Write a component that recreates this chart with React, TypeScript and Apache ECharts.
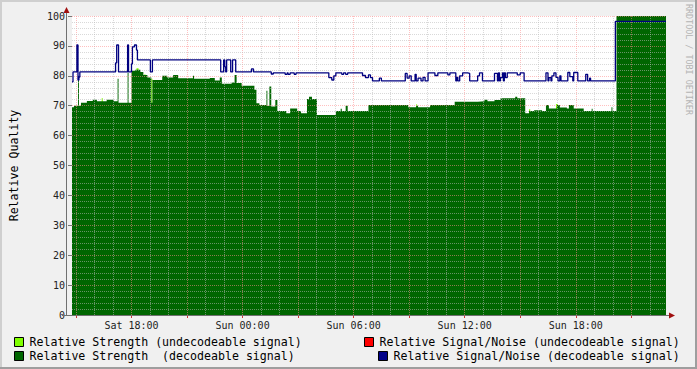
import React, { useEffect, useRef } from "react";
import * as echarts from "echarts";

// time in hours since Sat 00:00
const X_MIN = 14.786;
const X_MAX = 46.875;

const xLabelHours = [18, 24, 30, 36, 42];
const xMajorTickHours = [15, 18, 21, 24, 27, 30, 33, 36, 39, 42, 45];
const yTicks = [0, 10, 20, 30, 40, 50, 60, 70, 80, 90, 100];

// Relative Strength (decodeable signal): step start times + values
const strengthTimes = [14.786, 14.89, 15.11, 15.16, 15.27, 15.59, 15.91, 16.13, 16.66, 17.04, 17.25, 17.3, 17.79, 17.84, 18.0, 18.21, 18.48, 18.64, 18.86, 19.07, 19.13, 19.66, 19.93, 20.25, 20.52, 21.32, 21.38, 22.23, 22.5, 22.77, 22.88, 23.41, 23.57, 23.68, 23.95, 24.64, 24.75, 24.91, 25.29, 25.34, 25.45, 25.55, 25.77, 25.88, 26.36, 26.57, 26.95, 27.16, 27.48, 27.59, 27.75, 28.02, 29.04, 29.3, 29.36, 29.57, 29.68, 30.8, 32.95, 33.38, 33.48, 34.13, 35.46, 36.7, 37.07, 37.23, 37.61, 37.93, 38.73, 38.84, 39.27, 39.48, 39.75, 40.18, 40.39, 40.55, 40.98, 41.14, 41.52, 41.63, 41.89, 42.43, 42.86, 42.91, 43.93, 43.98, 44.2];
const strengthValues = [69.5, 70, 80, 70, 71, 71.6, 72, 71.5, 72, 71.5, 79, 71, 81, 71, 81.7, 82, 81.3, 80.3, 79.4, 71, 78.6, 80, 79.4, 80.3, 79.2, 80, 79, 79.3, 78.4, 79.4, 77.3, 77.8, 80.3, 77.6, 76.7, 75.3, 70.8, 70.2, 75, 69.9, 76.4, 69.7, 71.9, 68.2, 67.5, 69.1, 68.2, 67.5, 72.2, 73, 72.2, 66.9, 68.2, 69, 68.2, 70, 68.2, 70.2, 69.5, 70, 69.5, 70.2, 71.3, 71.5, 72, 71.5, 71.9, 72.5, 73, 72.5, 67.5, 68.2, 68.5, 68.2, 70.2, 69.1, 70.2, 69.4, 69.1, 70.2, 69.1, 68.2, 69, 68.2, 69.5, 68.2, 100];

// Relative Strength (undecodeable signal): only shows where it peeks above
const undecStrengthTimes = [14.786, 16.39, 16.45, 18.27, 18.38, 18.7, 18.75, 19.07, 19.13, 33.38, 33.43, 39.48, 39.54, 40.93, 41.04];
const undecStrengthValues = [0, 72.5, 0, 82.5, 0, 80.5, 0, 79, 0, 70.5, 0, 68.8, 0, 70.6, 0];

// Relative Signal/Noise (decodeable signal)
const snrTimes = [14.786, 14.84, 15.05, 15.11, 15.16, 15.21, 17.14, 17.2, 17.3, 17.79, 17.84, 18.0, 18.05, 18.16, 18.27, 18.32, 19.02, 19.13, 22.82, 22.98, 23.04, 23.09, 23.14, 23.36, 23.46, 23.63, 24.48, 24.59, 25.55, 25.66, 26.3, 26.41, 26.46, 26.57, 26.79, 26.89, 28.66, 28.82, 28.93, 29.04, 29.36, 29.46, 29.57, 29.68, 30.48, 30.64, 30.8, 30.91, 31.02, 31.39, 31.5, 32.79, 32.89, 33.0, 33.11, 33.32, 33.38, 33.48, 33.64, 33.75, 33.86, 34.02, 34.39, 34.55, 35.09, 35.2, 35.52, 35.57, 35.63, 35.73, 35.89, 36.16, 36.27, 36.7, 36.8, 36.96, 37.61, 37.77, 37.82, 37.88, 37.93, 38.04, 38.09, 38.14, 38.2, 38.3, 38.84, 39.0, 39.21, 40.39, 40.5, 40.55, 40.66, 40.71, 40.82, 40.93, 41.04, 41.14, 41.2, 41.57, 41.68, 41.84, 41.89, 42.11, 42.54, 42.64, 42.75, 42.8, 44.14];
const snrValues = [78, 81.3, 90.3, 78.6, 79.6, 81.3, 84.3, 90.3, 81.3, 90.3, 81.3, 84, 89.7, 90.3, 88.6, 85.3, 81.3, 85.3, 81.3, 85.3, 83, 81.3, 85.3, 81.3, 85.3, 81.3, 82.3, 81.3, 80.6, 81, 80.5, 81, 80.5, 81, 80.5, 81, 79.4, 78.6, 80, 81, 80.5, 81, 80.5, 81, 80.1, 79.4, 80.3, 79.4, 78.3, 79.2, 78.3, 80.8, 79.2, 80, 78.3, 80.5, 78.3, 79.2, 78.3, 79.5, 78.3, 81, 80.1, 81, 80.3, 81, 78.3, 79.5, 78.3, 80, 81, 80.8, 78.3, 80, 81, 78.3, 80.8, 78.3, 81, 78.3, 79.4, 81, 78.3, 81, 79.4, 81, 80.3, 81, 78.3, 81, 78.3, 79.4, 78.3, 80, 81, 79.5, 78.3, 80, 78.3, 81.1, 79.7, 78.3, 81.1, 78.3, 80.5, 78.3, 79.2, 78.3, 98.2];

const NAME_US = "Relative Strength (undecodeable signal)";
const NAME_DS = "Relative Strength  (decodeable signal)";
const NAME_UN = "Relative Signal/Noise (undecodeable signal)";
const NAME_DN = "Relative Signal/Noise (decodeable signal)";

const MONO = '"DejaVu Sans Mono", monospace';

function stepData(times: number[], values: number[], end: number) {
  const d: number[][] = times.map((t, i) => [t, values[i]]);
  d.push([end, values[values.length - 1]]);
  return d;
}

export default function App() {
  const ref = useRef<HTMLDivElement>(null);
  useEffect(() => {
    if (!ref.current) return;
    const chart = echarts.init(ref.current, undefined, { renderer: "svg" });

    const minorColor = "rgba(185,185,185,0.55)";
    const majorColor = "rgba(255,140,140,0.55)";
    const gridLines: any[] = [];
    for (let h = 15; h <= 46; h++) {
      gridLines.push({ xAxis: h, lineStyle: { color: h % 3 === 0 ? majorColor : minorColor, type: [1, 1], width: 1 } });
    }
    for (let v = 2; v <= 100; v += 2) {
      gridLines.push({ yAxis: v, lineStyle: { color: v % 10 === 0 ? majorColor : minorColor, type: [1, 1], width: 1 } });
    }

    const legendBase = {
      orient: "horizontal",
      icon: "rect",
      itemWidth: 9,
      itemHeight: 9,
      padding: 0,
      selectedMode: false,
      itemStyle: { borderColor: "#000", borderWidth: 1 },
      textStyle: { fontFamily: MONO, fontSize: 11.6, color: "#000", padding: [0, 0, 0, 1] },
    };

    chart.setOption({
      animation: false,
      backgroundColor: "#f0f0f0",
      grid: { left: 67, right: 31, top: 16, bottom: 54, show: true, backgroundColor: "#ffffff", borderWidth: 0 },
      legend: [
        { ...legendBase, data: [NAME_US], left: 14, top: 336 },
        { ...legendBase, data: [NAME_DS], left: 14, top: 350 },
        { ...legendBase, data: [NAME_UN], left: 364, top: 336 },
        { ...legendBase, data: [NAME_DN], left: 378, top: 350 },
      ],
      xAxis: {
        type: "value",
        min: X_MIN,
        max: X_MAX,
        axisLine: { show: false },
        splitLine: { show: false },
        axisTick: { show: true, customValues: xMajorTickHours, length: 3, lineStyle: { color: "#cc3333" } },
        axisLabel: {
          customValues: xLabelHours,
          margin: 5,
          fontFamily: MONO,
          fontSize: 10,
          color: "#222",
          formatter: (v: number) => {
            const day = v < 24 ? "Sat" : "Sun";
            const h = Math.round(v % 24);
            return `${day} ${String(h).padStart(2, "0")}:00`;
          },
        },
      },
      yAxis: {
        type: "value",
        min: 0,
        max: 100,
        interval: 10,
        name: "Relative Quality",
        nameLocation: "middle",
        nameRotate: 90,
        nameGap: 52,
        nameTextStyle: { fontFamily: MONO, fontSize: 11.6, color: "#000" },
        axisLine: { show: false },
        splitLine: { show: false },
        axisTick: { show: true, length: 4, lineStyle: { color: "#777" } },
        axisLabel: { margin: 7, fontFamily: MONO, fontSize: 10, color: "#222", customValues: yTicks },
      },
      series: [
        {
          name: NAME_US,
          type: "line",
          step: "end",
          symbol: "none",
          color: "#80ff00",
          itemStyle: { color: "#80ff00" },
          lineStyle: { width: 0, opacity: 0 },
          areaStyle: { color: "#80ff00", opacity: 1 },
          data: stepData(undecStrengthTimes, undecStrengthValues, X_MAX),
          z: 1,
        },
        {
          name: NAME_DS,
          type: "line",
          step: "end",
          symbol: "none",
          color: "#006600",
          itemStyle: { color: "#006600" },
          lineStyle: { width: 0, opacity: 0 },
          areaStyle: { color: "#006600", opacity: 1 },
          data: stepData(strengthTimes, strengthValues, X_MAX),
          z: 2,
          markLine: {
            silent: true,
            symbol: ["none", "none"],
            label: { show: false },
            animation: false,
            z: 5,
            data: gridLines,
          },
        },
        {
          name: NAME_UN,
          type: "line",
          symbol: "none",
          color: "#ff0000",
          itemStyle: { color: "#ff0000" },
          data: [],
        },
        {
          name: NAME_DN,
          type: "line",
          step: "end",
          symbol: "none",
          color: "#000088",
          itemStyle: { color: "#000088" },
          lineStyle: { width: 1.3, color: "#000080" },
          data: stepData(snrTimes, snrValues, X_MAX),
          z: 6,
        },
      ],
      graphic: [
        // frame shading
        { type: "rect", shape: { x: 0, y: 0, width: 697, height: 2 }, style: { fill: "#cfcfcf" }, z: 10 },
        { type: "rect", shape: { x: 0, y: 0, width: 2, height: 369 }, style: { fill: "#cfcfcf" }, z: 10 },
        { type: "rect", shape: { x: 0, y: 367, width: 697, height: 2 }, style: { fill: "#9e9e9e" }, z: 10 },
        { type: "rect", shape: { x: 695, y: 0, width: 2, height: 369 }, style: { fill: "#9e9e9e" }, z: 10 },
        // axes lines and arrows
        { type: "line", shape: { x1: 66.5, y1: 316, x2: 66.5, y2: 12 }, style: { stroke: "#707070", lineWidth: 1 }, z: 10 },
        { type: "line", shape: { x1: 62, y1: 315.5, x2: 669, y2: 315.5 }, style: { stroke: "#707070", lineWidth: 1 }, z: 10 },
        { type: "polygon", shape: { points: [[66.5, 7], [63.5, 13], [69.5, 13]] }, style: { fill: "#a01010" }, z: 10 },
        { type: "polygon", shape: { points: [[675, 315.5], [669, 312.5], [669, 318.5]] }, style: { fill: "#a01010" }, z: 10 },
        // watermark
        {
          type: "text",
          x: 688.5,
          y: 4,
          rotation: -Math.PI / 2,
          style: { text: "RRDTOOL / TOBI OETIKER", fill: "#b4b4b4", fontFamily: MONO, fontSize: 8.4, align: "left", verticalAlign: "middle" },
          z: 10,
        },
      ],
    });
    return () => chart.dispose();
  }, []);
  return <div ref={ref} style={{ position: "absolute", left: 0, top: 0, width: 697, height: 369 }} />;
}
